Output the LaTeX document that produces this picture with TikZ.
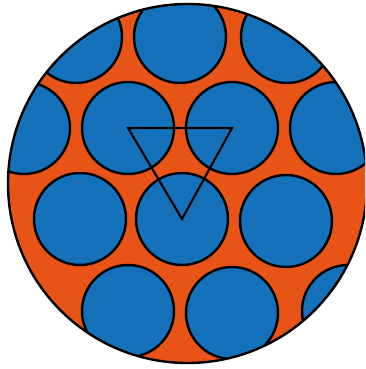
\documentclass[tikz,border=0pt]{standalone}
\usepackage{tikz}
\definecolor{rimorange}{RGB}{232,84,24}
\definecolor{ballblue}{RGB}{21,113,186}
\tikzset{
    wire/.style={draw=black, line width=2.4pt}, % outlines
    ball/.style={wire, fill=ballblue}, % packed circles
}

\begin{document}
\begin{tikzpicture}[x=1pt, y=-1pt]
  \useasboundingbox (0,0) rectangle (365,369);
  \clip (0,0) rectangle (365,369);

  \coordinate (mid) at (187.5,183.5);
  \fill[rimorange] (mid) circle (179.5);

  \begin{scope}
    \clip (mid) circle (179.5);
    \foreach \cx/\cy/\name in {76/37/a1, 180/37/a2, 287/37/a3,
        24/128/b1, 128/128/b2, 232/128/b3, 336/128/b4,
        80/219/c1, 182/219/c2, 286/221/c3,
        128/311/d1, 232/313/d2, 348/311/d3} {
      \coordinate (\name) at (\cx,\cy);
      \draw[ball] (\name) circle (46);
    }
  \end{scope}

  \draw[wire] (mid) circle (179.5);

  % triangle through three centres
  \draw[wire, line width=2.1pt, line join=miter] (b2) -- (b3) -- (c2) -- cycle;
\end{tikzpicture}
\end{document}
